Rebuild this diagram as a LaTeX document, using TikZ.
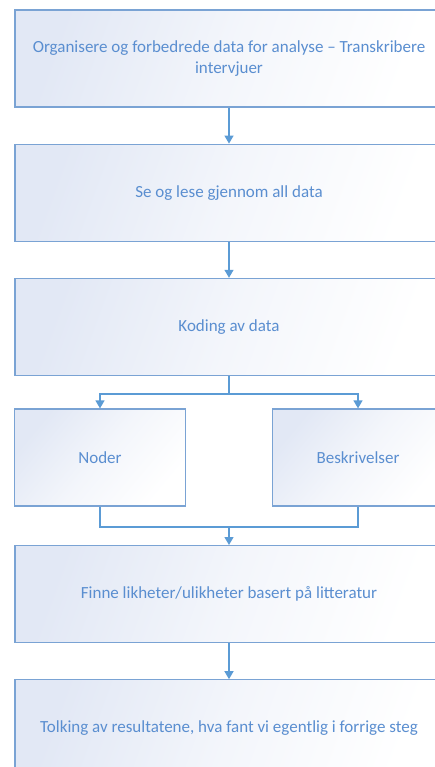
\documentclass[tikz,border=0pt]{standalone}
\usepackage{fontspec}
\setmainfont{Carlito}
\usetikzlibrary{positioning, arrows.meta}

\definecolor{boxline}{RGB}{122,163,212}
\definecolor{boxfill}{RGB}{226,232,245}
\definecolor{textblue}{RGB}{90,142,208}
\definecolor{linkblue}{RGB}{91,155,213}

\begin{document}
\begin{tikzpicture}[
  stepbox/.style={draw=boxline, line width=1.2pt, rectangle,
    top color=boxfill, bottom color=white, middle color=white!60!boxfill,
    shading angle=70,
    minimum width=428pt, minimum height=97pt, text centered,
    text=textblue, font=\fontsize{17}{21}\selectfont},
  halfbox/.style={stepbox, minimum width=171pt, shading angle=50},
  arrow/.style={-{Triangle[length=8pt,width=9pt]}, draw=linkblue, line width=1.3pt},
  conn/.style={draw=linkblue, line width=1.3pt}
]

% frame of the page, boxes run past the right edge
\clip (0,0) rectangle (435pt,-767pt);

% main steps
\node[stepbox, align=center] (org) at (229pt,-58.5pt)
  {Organisere og forbedrede data for analyse -- Transkribere\\intervjuer};
\node[stepbox, below=36pt of org] (les) {Se og lese gjennom all data};
\node[stepbox, below=36pt of les] (kod) {Koding av data};

% two branches
\node[halfbox] (noder) at (100pt,-457.5pt) {Noder};
\node[halfbox] (beskr) at (358pt,-457.5pt) {Beskrivelser};

% last steps
\node[stepbox, below=169pt of kod] (finne) {Finne likheter/ulikheter basert på litteratur};
\node[stepbox, below=36pt of finne] (tolk) {Tolking av resultatene, hva fant vi egentlig i forrige steg};

% split and join points
\coordinate[below=18pt of kod] (split);
\coordinate[above=18pt of finne] (join);

% arrows
\draw[arrow] (org) -- (les);
\draw[arrow] (les) -- (kod);
\draw[conn] (kod.south) -- (split);
\draw[arrow] (split) -| (noder.north);
\draw[arrow] (split) -| (beskr.north);
\draw[conn] (noder.south) |- (join) -| (beskr.south);
\draw[arrow] (join) -- (finne.north);
\draw[arrow] (finne) -- (tolk);

\end{tikzpicture}
\end{document}
